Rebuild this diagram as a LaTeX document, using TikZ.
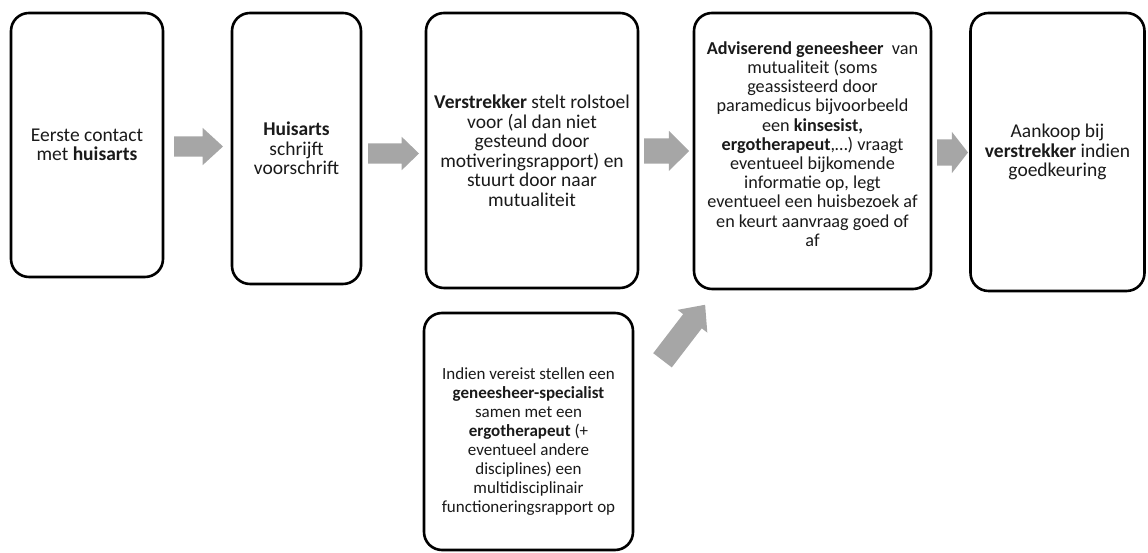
\documentclass[tikz,border=0pt]{standalone}
\usepackage{fontspec}
\setmainfont{Carlito}
\usetikzlibrary{shapes.arrows,calc}
\definecolor{arrowgray}{HTML}{A6A6A6}
\definecolor{textdark}{HTML}{1A1A1A}
\tikzset{
  stagebox/.style={draw=black, line width=2.6pt, rounded corners=18pt,
    fill=white, inner sep=0pt},
  stagetext/.style={align=center, text=textdark, inner sep=0pt,
    font=\fontsize{19.5}{19.5}\selectfont},
  smalltext/.style={font=\fontsize{18.2}{19.2}\selectfont},
  smallertext/.style={font=\fontsize{17}{18.9}\selectfont},
  blockarrow/.style={single arrow, fill=arrowgray, draw=none, anchor=tail,
    inner xsep=0pt, outer sep=0pt, minimum width=0pt},
}
\begin{document}
\begin{tikzpicture}[x=1pt, y=1pt]
  \useasboundingbox (0,0) rectangle (1148,553);

  % process stages: frames
  \node[stagebox, minimum width=152pt, minimum height=264pt] (b1) at (87,408) {};
  \node[stagebox, minimum width=129pt, minimum height=271pt] (b2) at (296.5,404.5) {};
  \node[stagebox, minimum width=212pt, minimum height=275pt] (b3) at (532,402.5) {};
  \node[stagebox, minimum width=237pt, minimum height=276pt] (b4) at (812.5,402) {};
  \node[stagebox, minimum width=174pt, minimum height=278pt] (b5) at (1057.5,401) {};
  \node[stagebox, minimum width=209pt, minimum height=237pt] (b6) at (528.5,121.5) {};

  % process stages: texts
  \node[stagetext] (t1) at (b1.center)
    {Eerste contact\\met \textbf{huisarts}};
  \node[stagetext] (t2) at (b2.center)
    {\textbf{Huisarts}\\schrijft\\voorschrift};
  \node[stagetext] (t3) at (b3.center)
    {\textbf{Verstrekker} stelt rolstoel\\voor (al dan niet\\gesteund door\\motiveringsrapport) en\\stuurt door naar\\mutualiteit};
  \node[stagetext, smalltext] (t4) at ($(b4.center)+(0,7)$)
    {\textbf{Adviserend geneesheer}~~van\\mutualiteit (soms\\geassisteerd door\\paramedicus bijvoorbeeld\\een \textbf{kinsesist,}\\\textbf{ergotherapeut},…) vraagt\\eventueel bijkomende\\informatie op, legt\\eventueel een huisbezoek af\\en keurt aanvraag goed of\\af};
  \node[stagetext] (t5) at (b5.center)
    {Aankoop bij\\\textbf{verstrekker} indien\\goedkeuring};
  \node[stagetext, smallertext] (t6) at ($(b6.center)+(0,-10)$)
    {Indien vereist stellen een\\\textbf{geneesheer-specialist}\\samen met een\\\textbf{ergotherapeut} (+\\eventueel andere\\disciplines) een\\multidisciplinair\\functioneringsrapport op};

  % block arrows between the stages
  \node[blockarrow, minimum height=49pt, inner ysep=10pt,
    single arrow head extend=8.5pt, single arrow tip angle=85] (a1) at (174,406.5) {};
  \node[blockarrow, minimum height=51pt, inner ysep=10pt,
    single arrow head extend=6.5pt, single arrow tip angle=88] (a2) at (368,399.5) {};
  \node[blockarrow, minimum height=45pt, inner ysep=12.5pt,
    single arrow head extend=7.5pt, single arrow tip angle=90] (a3) at (644,402) {};
  \node[blockarrow, minimum height=31pt, inner ysep=13pt,
    single arrow head extend=7.5pt, single arrow tip angle=104] (a4) at (937,400.5) {};
  \node[blockarrow, minimum height=70pt, inner ysep=11.5pt, rotate=52.5,
    single arrow head extend=7pt, single arrow tip angle=84] (a5) at (662.5,192.7) {};
\end{tikzpicture}
\end{document}
